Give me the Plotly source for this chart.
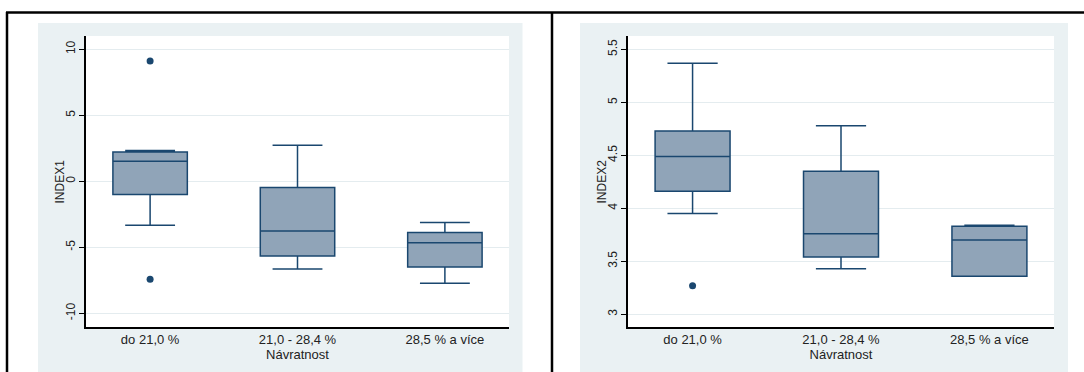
import plotly.graph_objects as go

categories = ["do 21,0 %", "21,0 - 28,4 %", "28,5 % a více"]

# INDEX1 box statistics
idx1_lower = [-3.33, -6.64, -7.73]
idx1_q1 = [-1.01, -5.66, -6.49]
idx1_median = [1.52, -3.77, -4.65]
idx1_q3 = [2.22, -0.48, -3.89]
idx1_upper = [2.32, 2.73, -3.13]
idx1_out_cat = ["do 21,0 %", "do 21,0 %"]
idx1_out_val = [9.11, -7.42]

# INDEX2 box statistics
idx2_lower = [3.95, 3.43, 3.36]
idx2_q1 = [4.16, 3.54, 3.36]
idx2_median = [4.49, 3.76, 3.70]
idx2_q3 = [4.73, 4.35, 3.83]
idx2_upper = [5.37, 4.78, 3.84]
idx2_out_cat = ["do 21,0 %"]
idx2_out_val = [3.27]

y1_ticks = [-10, -5, 0, 5, 10]
y2_ticks = [3, 3.5, 4, 4.5, 5, 5.5]

NAVY = "#1a476f"
FILL = "#90a4b8"
GRID = "#e4ecef"
BG = "#eaf1f3"
TXT = "#222222"
FONT = "Liberation Sans, Arial, sans-serif"

W, H = 1084, 372

fig = go.Figure()

def add_boxes(xa, ya, lo, q1, med, q3, up, oc, ov):
    fig.add_trace(go.Box(
        x=categories, q1=q1, median=med, q3=q3, lowerfence=lo, upperfence=up,
        xaxis=xa, yaxis=ya, width=0.505, whiskerwidth=0.67,
        fillcolor=FILL, line=dict(color=NAVY, width=1.5),
        boxpoints=False, showlegend=False, hoverinfo="skip"))
    fig.add_trace(go.Scatter(
        x=oc, y=ov, mode="markers", xaxis=xa, yaxis=ya,
        marker=dict(color=NAVY, size=7), showlegend=False, hoverinfo="skip"))

add_boxes("x", "y", idx1_lower, idx1_q1, idx1_median, idx1_q3, idx1_upper, idx1_out_cat, idx1_out_val)
add_boxes("x2", "y2", idx2_lower, idx2_q1, idx2_median, idx2_q3, idx2_upper, idx2_out_cat, idx2_out_val)

ydom = [45 / H, 336 / H]
xcommon = dict(type="category", categoryorder="array", categoryarray=categories,
               range=[-0.435, 2.435], showline=True, linecolor="black", linewidth=1.5,
               showgrid=False, ticks="", zeroline=False,
               tickfont=dict(size=13, color=TXT, family=FONT),
               title=dict(text="Návratnost", font=dict(size=13, color=TXT, family=FONT), standoff=2))
ycommon = dict(showline=True, linecolor="black", linewidth=1.5, ticks="outside", ticklen=5,
               tickcolor="black", tickwidth=1, showgrid=True, gridcolor=GRID, gridwidth=1,
               zeroline=False, tickangle=-90, domain=ydom, ticklabelstandoff=-1,
               tickfont=dict(size=12, color=TXT, family=FONT))

fig.update_layout(
    width=W, height=H, margin=dict(l=0, r=0, t=0, b=0),
    paper_bgcolor="white", plot_bgcolor="white",
    font=dict(family=FONT, color=TXT),
    xaxis=dict(domain=[86 / W, 509 / W], anchor="y", **xcommon),
    yaxis=dict(anchor="x", range=[-11.04, 11.0], tickvals=y1_ticks,
               ticktext=[str(v) for v in y1_ticks], **ycommon),
    xaxis2=dict(domain=[628 / W, 1054 / W], anchor="y2", **xcommon),
    yaxis2=dict(anchor="x2", range=[2.88, 5.626], tickvals=y2_ticks,
                ticktext=[f"{v:g}" for v in y2_ticks], **ycommon),
)

ymid = (ydom[0] + ydom[1]) / 2
fig.add_annotation(text="INDEX1", xref="paper", yref="paper", x=59 / W, y=ymid,
                   textangle=-90, showarrow=False, xanchor="center", yanchor="middle",
                   font=dict(size=12, color=TXT, family=FONT))
fig.add_annotation(text="INDEX2", xref="paper", yref="paper", x=601 / W, y=ymid,
                   textangle=-90, showarrow=False, xanchor="center", yanchor="middle",
                   font=dict(size=12, color=TXT, family=FONT))

shapes = []
# light graph-region backgrounds
shapes.append(dict(type="rect", xref="paper", yref="paper", x0=38 / W, x1=522.5 / W,
                   y0=0, y1=(H - 23) / H, fillcolor=BG, line=dict(width=0), layer="below"))
shapes.append(dict(type="rect", xref="paper", yref="paper", x0=580 / W, x1=1068 / W,
                   y0=0, y1=(H - 23) / H, fillcolor=BG, line=dict(width=0), layer="below"))
# white plot areas
shapes.append(dict(type="rect", xref="paper", yref="paper", x0=86 / W, x1=509 / W,
                   y0=ydom[0], y1=ydom[1], fillcolor="white", line=dict(width=0), layer="below"))
shapes.append(dict(type="rect", xref="paper", yref="paper", x0=628 / W, x1=1054 / W,
                   y0=ydom[0], y1=ydom[1], fillcolor="white", line=dict(width=0), layer="below"))
# black table borders
shapes.append(dict(type="line", xref="paper", yref="paper", x0=6 / W, x1=1,
                   y0=(H - 12.5) / H, y1=(H - 12.5) / H, line=dict(color="black", width=2.5)))
shapes.append(dict(type="line", xref="paper", yref="paper", x0=7 / W, x1=7 / W,
                   y0=0, y1=(H - 12) / H, line=dict(color="black", width=2.5)))
shapes.append(dict(type="line", xref="paper", yref="paper", x0=552 / W, x1=552 / W,
                   y0=0, y1=(H - 12) / H, line=dict(color="black", width=2.5)))
fig.update_layout(shapes=shapes)

fig.write_html("out.html", config={"displayModeBar": False},
               post_script="document.body.style.margin='0px';document.body.style.overflow='hidden';")
